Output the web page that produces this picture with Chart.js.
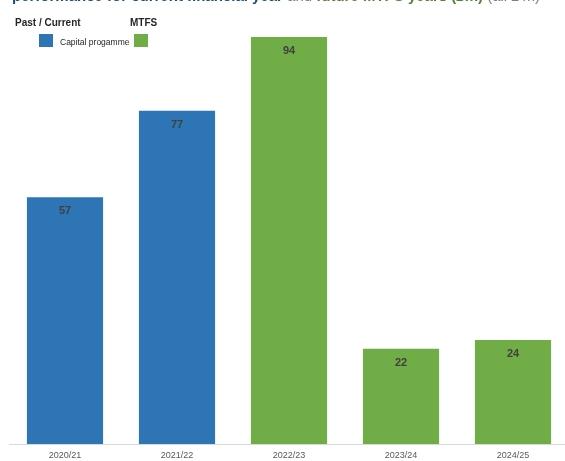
<!DOCTYPE html>
<html>
<head>
<meta charset="utf-8">
<script src="https://cdn.jsdelivr.net/npm/chart.js@4.4.0/dist/chart.umd.min.js"></script>
<style>
  html, body { margin: 0; padding: 0; background: #fff; overflow: hidden; }
  #wrap { position: relative; width: 569px; height: 461px; }
</style>
</head>
<body>
<div id="wrap"><canvas id="myChart" width="569" height="461"></canvas></div>
<script>
const years = ['2020/21', '2021/22', '2022/23', '2023/24', '2024/25'];
const capitalSpend = [57, 77, 94, 22, 24];
const barColours = ['#2e75b6', '#2e75b6', '#70ad47', '#70ad47', '#70ad47'];

const BLUE = '#2e75b6';
const GREEN = '#70ad47';
const NARROW = '"Liberation Sans Narrow", "Liberation Sans", Arial, sans-serif';

// title (cut off at the top) + two-part legend
const headerPlugin = {
  id: 'header',
  afterDraw(chart) {
    const c = chart.ctx;
    c.save();
    c.textBaseline = 'alphabetic';
    c.textAlign = 'left';
    let x = 12;
    const y = 1;
    const parts = [
      ['performance for current financial year ', '#1f4e79', 'bold'],
      ['and ', '#7f7f7f', 'normal'],
      ['future MTFS years (£m) ', '#548235', 'bold'],
      ['(all £\'m)', '#7f7f7f', 'normal']
    ];
    parts.forEach(function(p) {
      c.font = p[2] + ' 15px "Liberation Sans", Arial, sans-serif';
      c.fillStyle = p[1];
      c.fillText(p[0], x, y);
      x += c.measureText(p[0]).width;
    });

    c.fillStyle = '#262626';
    c.font = 'bold 10px ' + NARROW;
    c.fillText('Past / Current', 15, 26);
    c.fillText('MTFS', 130, 26);

    c.fillStyle = BLUE;
    c.fillRect(39, 34, 14, 13);
    c.fillStyle = GREEN;
    c.fillRect(134, 34, 14, 13);
    c.fillStyle = '#262626';
    c.font = '8.5px ' + NARROW;
    c.fillText('Capital progamme', 60, 45);
    c.restore();
  }
};

// value labels just inside the top of each bar
const valuePlugin = {
  id: 'values',
  afterDatasetsDraw(chart) {
    const c = chart.ctx;
    const meta = chart.getDatasetMeta(0);
    c.save();
    c.font = 'bold 11px "Liberation Sans", Arial, sans-serif';
    c.fillStyle = '#404040';
    c.textAlign = 'center';
    c.textBaseline = 'middle';
    meta.data.forEach(function(bar, i) {
      c.fillText(capitalSpend[i], bar.x, bar.y + 14);
    });
    c.restore();
  }
};

new Chart(document.getElementById('myChart'), {
  type: 'bar',
  data: {
    labels: years,
    datasets: [{
      data: capitalSpend,
      backgroundColor: barColours,
      borderWidth: 0,
      barPercentage: 0.68,
      categoryPercentage: 1
    }]
  },
  options: {
    responsive: false,
    animation: false,
    layout: { padding: { left: 9, right: 0, top: 12, bottom: 0 } },
    plugins: {
      legend: { display: false },
      tooltip: { enabled: false }
    },
    scales: {
      y: { display: false, min: 0, max: 99.8 },
      x: {
        grid: { display: false, drawTicks: false },
        border: { display: true, color: '#d9d9d9', width: 1 },
        ticks: {
          color: '#595959',
          font: { size: 9, family: '"Liberation Sans", Arial, sans-serif' },
          padding: 6
        },
        afterFit: function(scale) { scale.height = 17; }
      }
    }
  },
  plugins: [headerPlugin, valuePlugin]
});
</script>
</body>
</html>
